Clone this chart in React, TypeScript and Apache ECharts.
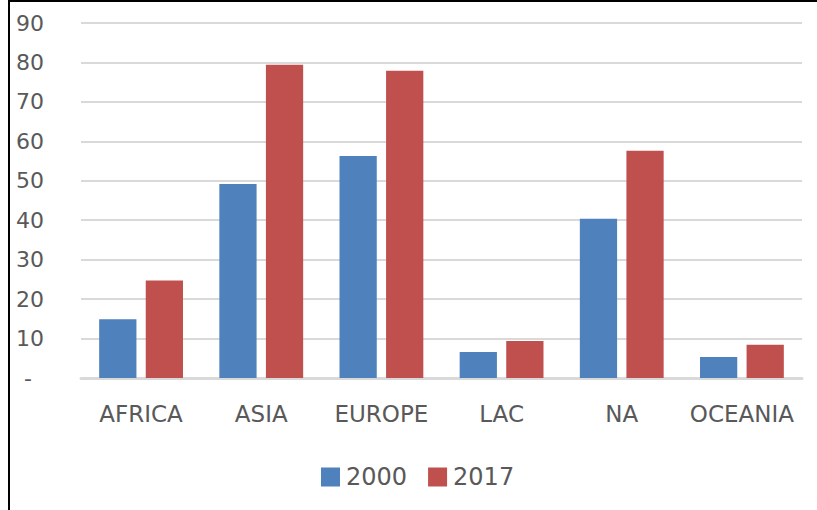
import React, { useEffect, useRef } from "react";
import * as echarts from "echarts";

const categories = ["AFRICA", "ASIA", "EUROPE", "LAC", "NA", "OCEANIA"];
const series2000 = [14.9, 49.2, 56.3, 6.6, 40.4, 5.3];
const series2017 = [24.7, 79.4, 77.9, 9.4, 57.6, 8.4];
const seriesNames = ["2000", "2017"];

export default function App() {
  const ref = useRef<HTMLDivElement>(null);
  useEffect(() => {
    if (!ref.current) return;
    const chart = echarts.init(ref.current, null, { renderer: "svg" });
    const font = "'DejaVu Sans', sans-serif";
    chart.setOption({
      animation: false,
      backgroundColor: "#ffffff",
      textStyle: { fontFamily: font },
      grid: { left: 81, right: 15, top: 23, bottom: 132, containLabel: false },
      legend: {
        data: seriesNames,
        bottom: 16,
        left: 316,
        icon: "rect",
        itemWidth: 19,
        itemHeight: 19,
        itemGap: 21,
        textStyle: { color: "#595959", fontSize: 24, fontFamily: font, padding: [0, 0, 0, 1] },
      },
      xAxis: {
        type: "category",
        data: categories,
        axisTick: { show: false },
        axisLine: { lineStyle: { color: "#D9D9D9", width: 3 } },
        axisLabel: { color: "#595959", fontSize: 23, fontFamily: font, margin: 24, interval: 0 },
      },
      yAxis: {
        type: "value",
        min: 0,
        max: 90,
        interval: 10,
        axisLine: { show: false },
        axisTick: { show: false },
        splitLine: { lineStyle: { color: "#D9D9D9", width: 2 } },
        axisLabel: {
          color: "#595959",
          fontSize: 22,
          fontFamily: font,
          margin: 37,
          formatter: (v: number) => (v === 0 ? "{d|-}" : String(v)),
          rich: { d: { color: "#595959", fontSize: 22, fontFamily: font, padding: [0, 12, 0, 0] } },
        },
      },
      series: [
        {
          name: seriesNames[0],
          type: "bar",
          data: series2000,
          barWidth: "31%",
          barGap: "25%",
          itemStyle: { color: "#4F81BD" },
        },
        {
          name: seriesNames[1],
          type: "bar",
          data: series2017,
          barWidth: "31%",
          itemStyle: { color: "#C0504D" },
        },
      ],
      graphic: [
        { type: "line", shape: { x1: 9, y1: 0, x2: 9, y2: 510 }, style: { stroke: "#000", lineWidth: 2 } },
        { type: "line", shape: { x1: 8, y1: 1, x2: 817, y2: 1 }, style: { stroke: "#000", lineWidth: 2 } },
      ],
    });
    return () => chart.dispose();
  }, []);
  return (
    <div
      ref={ref}
      style={{ position: "fixed", left: 0, top: 0, width: 817, height: 510, background: "#fff" }}
    />
  );
}
